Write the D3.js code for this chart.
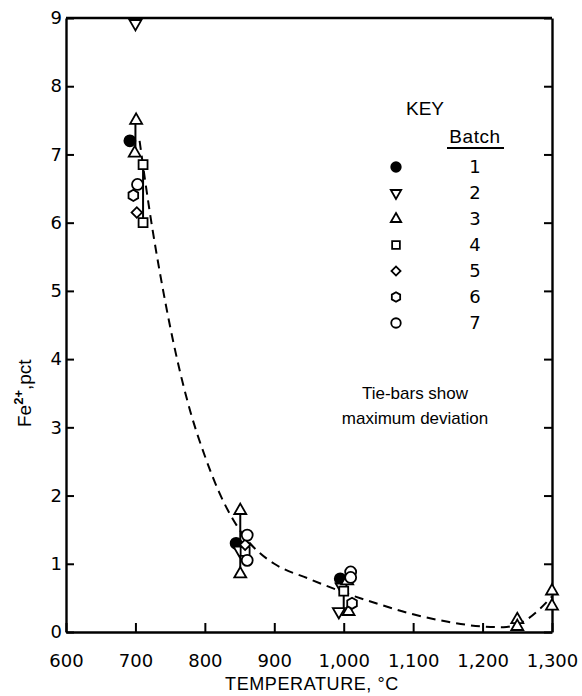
<!DOCTYPE html>
<html>
<head>
<meta charset="utf-8">
<script src="https://cdn.jsdelivr.net/npm/d3@7"></script>
<style>
  html, body { margin: 0; padding: 0; background: #fff; }
  svg { display: block; }
</style>
</head>
<body>
<div id="chart"></div>
<script>
// ---- data ----
const xTicks = [600, 700, 800, 900, 1000, 1100, 1200, 1300];
const yTicks = [0, 1, 2, 3, 4, 5, 6, 7, 8, 9];
const batchLabels = ['1', '2', '3', '4', '5', '6', '7'];

// [temperature °C, Fe2+ pct]
const batch1 = [[692, 7.2], [845, 1.3], [995, 0.78]];
const batch2 = [[700, 8.92], [850, 1.2], [993, 0.3], [997, 0.66]];
const batch3 = [[701, 7.5], [699, 7.02], [851, 1.78], [851, 0.85], [1005, 0.75], [1007, 0.3],
                [1250, 0.18], [1250, 0.08], [1300, 0.6], [1300, 0.38]];
const batch4 = [[711, 6.85], [711, 6.0], [858, 1.18], [1000, 0.6]];
const batch5 = [[702, 6.15], [858, 1.28]];
const batch6 = [[697, 6.4], [1012, 0.42]];
const batch7 = [[703, 6.56], [861, 1.42], [861, 1.05], [1010, 0.88], [1010, 0.8]];

// tie-bars: [temperature, low, high]
const tieBars = [[700, 7.02, 7.5], [711, 6.0, 6.85], [851, 0.85, 1.78], [861, 1.05, 1.42],
                 [1000, 0.3, 0.8], [1250, 0.08, 0.18]];

// dashed fitted curve
const fitCurve = [[706, 7.2], [720, 6.2], [740, 5.0], [760, 4.0], [780, 3.2], [800, 2.58],
                  [820, 2.06], [840, 1.66], [860, 1.36], [880, 1.15], [900, 1.0], [950, 0.78],
                  [1000, 0.58], [1050, 0.41], [1100, 0.26], [1150, 0.15], [1200, 0.08],
                  [1230, 0.07], [1260, 0.16], [1300, 0.52]];

const batches = [batch1, batch2, batch3, batch4, batch5, batch6, batch7];

// ---- layout ----
const W = 582, H = 696;
const m = { top: 18, right: 30, bottom: 64, left: 66 };
const w = W - m.left - m.right;
const h = H - m.top - m.bottom;

const svg = d3.select('#chart').append('svg')
  .attr('width', W).attr('height', H)
  .style('font-family', "'Liberation Sans', Arial, sans-serif");

const g = svg.append('g').attr('transform', `translate(${m.left},${m.top})`);

const x = d3.scaleLinear().domain([600, 1300]).range([0, w]);
const y = d3.scaleLinear().domain([0, 9]).range([h, 0]);

// ---- marker shapes ----
const hexagon = {
  draw(ctx, size) {
    const r = Math.sqrt(size / 2.598);
    for (let i = 0; i < 6; i++) {
      const a = Math.PI / 6 + i * Math.PI / 3;
      if (i === 0) ctx.moveTo(r * Math.cos(a), r * Math.sin(a));
      else ctx.lineTo(r * Math.cos(a), r * Math.sin(a));
    }
    ctx.closePath();
  }
};
const SHAPES = [
  { type: d3.symbolCircle, size: 95, rot: 0, fill: '#000' },
  { type: d3.symbolTriangle, size: 62, rot: 180, fill: '#fff' },
  { type: d3.symbolTriangle, size: 62, rot: 0, fill: '#fff' },
  { type: d3.symbolSquare, size: 80, rot: 0, fill: '#fff' },
  { type: d3.symbolSquare, size: 55, rot: 45, fill: '#fff' },
  { type: hexagon, size: 80, rot: 0, fill: '#fff' },
  { type: d3.symbolCircle, size: 95, rot: 0, fill: '#fff' },
];

// ---- frame + axes ----
const tickFont = "'DejaVu Sans', sans-serif";

const xAxis = g.append('g')
  .attr('transform', `translate(0,${h})`)
  .call(d3.axisBottom(x).tickValues(xTicks).tickFormat(d3.format(','))
    .tickSizeInner(-9).tickSizeOuter(0).tickPadding(22));
xAxis.selectAll('text').style('font-family', tickFont).style('font-size', '18px').attr('fill', '#000');

const yAxis = g.append('g')
  .call(d3.axisLeft(y).tickValues(yTicks).tickFormat(d3.format('d'))
    .tickSizeInner(-8).tickSizeOuter(0).tickPadding(4));
yAxis.selectAll('text').style('font-family', tickFont).style('font-size', '18px').attr('fill', '#000');

const rAxis = g.append('g')
  .attr('transform', `translate(${w},0)`)
  .call(d3.axisLeft(y).tickValues(yTicks).tickFormat('').tickSizeInner(8).tickSizeOuter(0));

[xAxis, yAxis, rAxis].forEach(a => {
  a.select('.domain').attr('stroke', '#000').attr('stroke-width', 2.4);
  a.selectAll('.tick line').attr('stroke', '#000').attr('stroke-width', 2);
});

g.append('line')
  .attr('x1', 0).attr('x2', w).attr('y1', 0).attr('y2', 0)
  .attr('stroke', '#000').attr('stroke-width', 2.4);

// axis titles
svg.append('text')
  .attr('x', 312).attr('y', 690)
  .attr('text-anchor', 'middle')
  .style('font-size', '18px')
  .style('letter-spacing', '0.6px')
  .text('TEMPERATURE, °C');

const yl = svg.append('text')
  .attr('transform', `translate(31,${m.top + y(3.5)}) rotate(-90)`)
  .attr('text-anchor', 'middle')
  .style('font-size', '19px');
yl.append('tspan').text('Fe');
yl.append('tspan').attr('dy', -8).style('font-size', '13px').style('font-weight', 'bold').text('2+');
yl.append('tspan').attr('dy', 8).text(',pct');

// ---- fitted curve ----
const line = d3.line()
  .x(d => x(d[0])).y(d => y(d[1]))
  .curve(d3.curveMonotoneX);
g.append('path')
  .datum(fitCurve)
  .attr('d', line)
  .attr('fill', 'none')
  .attr('stroke', '#000')
  .attr('stroke-width', 2)
  .attr('stroke-dasharray', '9,6');

// ---- tie-bars ----
g.selectAll('.tie')
  .data(tieBars)
  .enter().append('line')
  .attr('x1', d => x(d[0])).attr('x2', d => x(d[0]))
  .attr('y1', d => y(d[1])).attr('y2', d => y(d[2]))
  .attr('stroke', '#000').attr('stroke-width', 2);

// ---- points ----
batches.forEach((data, i) => {
  const s = SHAPES[i];
  g.selectAll(`.pt-${i}`)
    .data(data)
    .enter().append('path')
    .attr('d', d3.symbol().type(s.type).size(s.size)())
    .attr('transform', d => `translate(${x(d[0])},${y(d[1])}) rotate(${s.rot})`)
    .attr('fill', s.fill)
    .attr('stroke', '#000')
    .attr('stroke-width', 1.8);
});

// ---- key ----
svg.append('text')
  .attr('x', 425).attr('y', 115)
  .attr('text-anchor', 'middle')
  .style('font-size', '19px')
  .text('KEY');
svg.append('text')
  .attr('x', 475).attr('y', 143)
  .attr('text-anchor', 'middle')
  .style('font-size', '19px')
  .style('letter-spacing', '0.6px')
  .text('Batch');
svg.append('line')
  .attr('x1', 447).attr('x2', 504).attr('y1', 148).attr('y2', 148)
  .attr('stroke', '#000').attr('stroke-width', 2);

const keyY = d3.scalePoint().domain(batchLabels).range([167, 323]);
const keyRows = svg.selectAll('.key-row')
  .data(batchLabels)
  .enter().append('g')
  .attr('transform', d => `translate(0,${keyY(d)})`);
keyRows.each(function (d, i) {
  const s = SHAPES[i];
  d3.select(this).append('path')
    .attr('d', d3.symbol().type(s.type).size(s.size * 0.75)())
    .attr('transform', `translate(396,0) rotate(${s.rot})`)
    .attr('fill', s.fill)
    .attr('stroke', '#000')
    .attr('stroke-width', 1.8);
  d3.select(this).append('text')
    .attr('x', 475).attr('dy', '0.36em')
    .attr('text-anchor', 'middle')
    .style('font-family', tickFont)
    .style('font-size', '18px')
    .text(d);
});

// ---- note ----
svg.append('text')
  .attr('x', 415).attr('y', 399)
  .attr('text-anchor', 'middle')
  .style('font-size', '17px')
  .text('Tie-bars show');
svg.append('text')
  .attr('x', 415).attr('y', 424)
  .attr('text-anchor', 'middle')
  .style('font-size', '17px')
  .text('maximum deviation');
</script>
</body>
</html>
